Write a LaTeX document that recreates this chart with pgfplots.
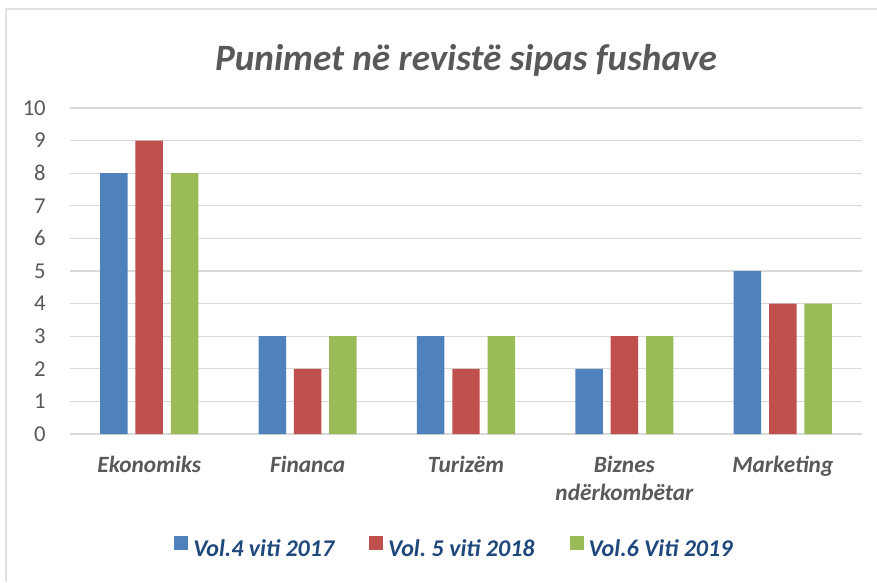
\documentclass[border=0pt]{standalone}
\usepackage{pgfplots}
\pgfplotsset{compat=1.18}
\usepackage{fontspec}
\setmainfont{Carlito}
\frenchspacing
\definecolor{cblue}{HTML}{4F81BD}
\definecolor{cred}{HTML}{C0504D}
\definecolor{cgreen}{HTML}{9BBB59}
\definecolor{tickgray}{HTML}{595959}
\definecolor{gridgray}{HTML}{D9D9D9}
\definecolor{legblue}{HTML}{1F497D}
\begin{document}
\begin{tikzpicture}
\useasboundingbox (-52.5pt,-111pt) rectangle (605.25pt,325.5pt);
\draw[gridgray!80, line width=1.5pt] (-48pt,-111pt) -- (-48pt,318.75pt) -- (605.25pt,318.75pt);
\begin{axis}[
  at={(0pt,0pt)}, anchor=south west,
  scale only axis, width=594pt, height=244.5pt,
  xmin=-0.5, xmax=4.5, ymin=0, ymax=10,
  axis x line*=bottom, axis y line*=left,
  y axis line style={draw=none},
  x axis line style={draw=gridgray, line width=1pt},
  major tick length=0pt,
  ytick={0,1,...,10},
  ymajorgrids, grid style={draw=gridgray, line width=0.9pt},
  xtick={0,1,2,3,4},
  xticklabels={\strut Ekonomiks,\strut Financa,\strut Turizëm,{\strut Biznes\\\strut ndërkombëtar},\strut Marketing},
  xticklabel style={align=center, font=\fontsize{17.5}{21}\selectfont\bfseries\itshape, text=tickgray, anchor=north, inner sep=0pt, yshift=-13.8pt},
  yticklabel style={font=\fontsize{17}{20}\selectfont, text=tickgray, anchor=east, inner sep=0pt, xshift=-18pt},
  /pgf/number format/assume math mode=true,
  legend columns=3,
  legend image code/.code={\fill[#1,draw=none] (0pt,0pt) rectangle (10.5pt,10.5pt); \path (14.25pt,0pt);},
  legend style={at={(axis description cs:0.1313,-0.3497)}, anchor=west, draw=none, fill=none, inner sep=0pt, column sep=0pt,
    /tikz/every even column/.append style={column sep=26.25pt},
    nodes={inner sep=0pt, text height=12pt, text depth=3pt, text=legblue, font=\fontsize{18}{22}\selectfont\bfseries\itshape}},
  legend cell align=left,
]
\addplot[ybar, bar width=20.6pt, bar shift=-26.5pt, fill=cblue, draw=none] coordinates {(0,8) (1,3) (2,3) (3,2) (4,5)};
\addplot[ybar, bar width=20.6pt, bar shift=0pt, fill=cred, draw=none] coordinates {(0,9) (1,2) (2,2) (3,3) (4,4)};
\addplot[ybar, bar width=20.6pt, bar shift=26.5pt, fill=cgreen, draw=none] coordinates {(0,8) (1,3) (2,3) (3,3) (4,4)};
\legend{Vol.4 viti 2017, Vol.\ 5 viti 2018, Vol.6 Viti 2019}
\end{axis}
\node[anchor=base, text=tickgray, font=\fontsize{27.9}{31}\selectfont\bfseries\itshape, inner sep=0pt] at (297pt,272.25pt) {Punimet në revistë sipas fushave};
\end{tikzpicture}
\end{document}
